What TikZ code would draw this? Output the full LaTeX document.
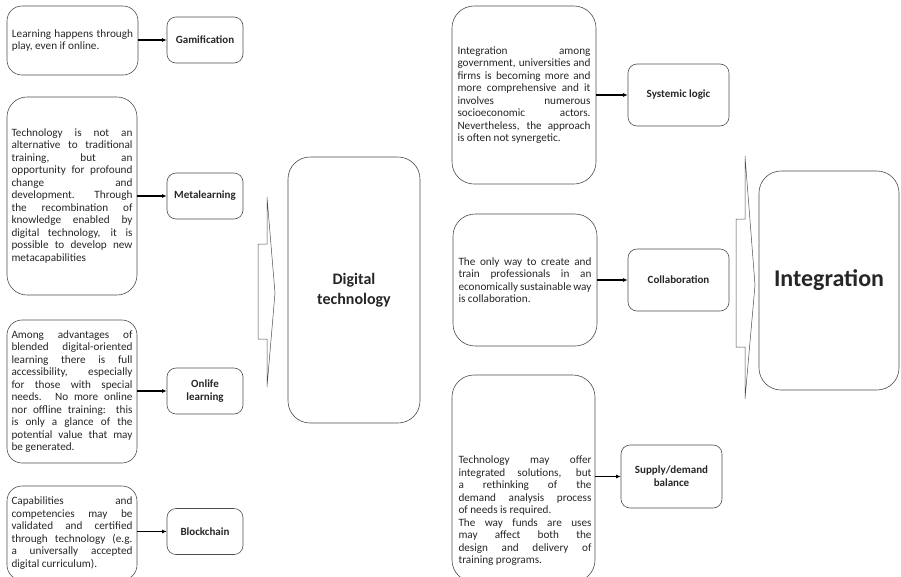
\documentclass[tikz,border=0pt]{standalone}
\usepackage{fontspec}
\setmainfont{Carlito}
\usetikzlibrary{arrows.meta}
\hyphenpenalty=10000
\exhyphenpenalty=10000
\tolerance=10000
\begin{document}
\begin{tikzpicture}
  [x=1pt,y=-1pt,
   every node/.style={text=black!85},
   note/.style={draw=black!70,line width=.6pt,rounded corners=15pt,align=justify,
     text width=121pt,inner sep=2pt,font=\fontsize{11.2}{12.5}\selectfont},
   wide/.style={note,text width=133pt,rounded corners=22pt},
   tag/.style={draw=black!70,line width=.6pt,rounded corners=9pt,align=center,
     minimum width=76pt,minimum height=46pt,inner sep=1pt,font=\bfseries\fontsize{11}{13}\selectfont},
   hub/.style={draw=black!70,line width=.6pt,rounded corners=22pt,align=center},
   link/.style={-{Latex[length=4.5pt,width=4pt]},line width=1.1pt},
   block/.style={draw=black!70,line width=.5pt}]
  \useasboundingbox (0,0) rectangle (901,576);
  \clip (0,0) rectangle (901,576);
  \node[note,minimum width=131pt,minimum height=69pt] (t1) at (72.5,40.5)
    {Learning happens through\linebreak play, even if online.};
  \node[note,minimum width=130pt,minimum height=198pt,rounded corners=20pt] (t2) at (72,196)
    {Technology is not an\linebreak alternative to traditional\linebreak training, but an\linebreak
     opportunity for profound\linebreak change and\linebreak development. Through\linebreak
     the recombination of\linebreak knowledge enabled by\linebreak digital technology, it is\linebreak
     possible to develop new\linebreak metacapabilities};
  \node[note,minimum width=130pt,minimum height=143pt] (t3) at (72,391.5)
    {Among advantages of\linebreak blended digital-oriented\linebreak learning there is full\linebreak
     accessibility, especially\linebreak for those with special\linebreak needs. No more online\linebreak
     nor offline training: this\linebreak is only a glance of the\linebreak potential value that may\linebreak
     be generated.};
  \node[note,minimum width=130pt,minimum height=94pt] (t4) at (72,533)
    {Capabilities and\linebreak competencies may be\linebreak validated and certified\linebreak
     through technology (e.g.\linebreak a universally accepted\linebreak digital curriculum).};
  \node[tag] (g1) at (205,40) {Gamification};
  \node[tag] (g2) at (205,196) {Metalearning};
  \node[tag] (g3) at (205,391) {Onlife\\learning};
  \node[tag] (g4) at (205,531.5) {Blockchain};
  \node[hub,minimum width=132pt,minimum height=266pt,font=\bfseries\fontsize{16}{20}\selectfont] (dt) at (354,290)
    {Digital\\technology};
  \node[wide,minimum width=144pt,minimum height=178pt] (r1) at (524,95)
    {Integration among\linebreak government, universities and\linebreak firms is becoming more and\linebreak
     more comprehensive and it\linebreak involves numerous\linebreak socioeconomic actors.\linebreak
     Nevertheless, the approach\linebreak is often not synergetic.};
  \node[wide,minimum width=144pt,minimum height=132pt] (r2) at (525,280)
    {The only way to create and\linebreak train professionals in an\linebreak
     economically sustainable way\linebreak is collaboration.};
  \node[wide,minimum width=143pt,minimum height=207pt] (r3) at (523.5,478.5) {};
  \node[wide,draw=none] (r3t) at (525,511)
    {Technology may offer\linebreak integrated solutions, but\linebreak a rethinking of the\linebreak
     demand analysis process\linebreak of needs is required.\\ The way funds are uses\linebreak
     may affect both the\linebreak design and delivery of\linebreak training programs.};
  \node[tag,minimum width=101pt,minimum height=62pt] (s1) at (678.5,95) {Systemic logic};
  \node[tag,minimum width=101pt,minimum height=62pt] (s2) at (678.5,280) {Collaboration};
  \node[tag,minimum width=101pt,minimum height=63pt] (s3) at (671.5,476.5) {Supply/demand\\balance};
  \node[hub,minimum width=140pt,minimum height=219pt,font=\bfseries\fontsize{24}{28}\selectfont] (ig) at (829,280.5)
    {Integration};
  \draw[block] (258,244) -- (267,244) -- (267,197) -- (275,293) -- (267,387) -- (267,339) -- (258,339) -- cycle;
  \draw[block] (736,219) -- (745,219) -- (745,156) -- (755,285) -- (745,399) -- (745,347) -- (736,347) -- cycle;
  \foreach \from/\to in {t1/g1,t2/g2,t3/g3,t4/g4,r1/s1,r2/s2,r3/s3}
    \draw[link] (\from.east |- \to.west) -- (\to.west);
\end{tikzpicture}
\end{document}
